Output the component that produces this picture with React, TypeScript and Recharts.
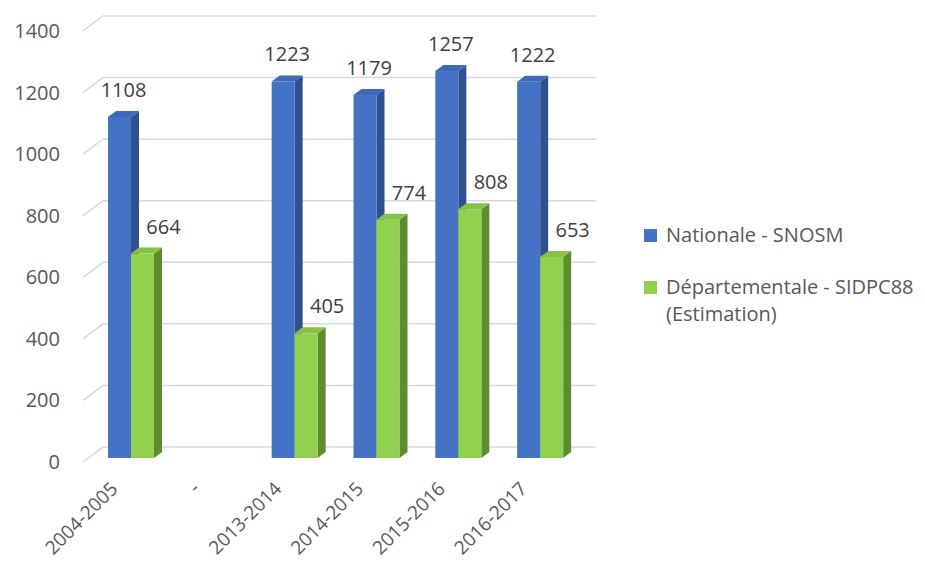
import { BarChart, Bar, XAxis, YAxis, CartesianGrid, LabelList } from 'recharts';

const CATEGORIES = ['2004-2005', '-', '2013-2014', '2014-2015', '2015-2016', '2016-2017'];
const NATIONALE = [1108, null, 1223, 1179, 1257, 1222];
const DEPARTEMENTALE = [664, null, 405, 774, 808, 653];
const Y_TICKS = [0, 200, 400, 600, 800, 1000, 1200, 1400];

const FONT = '"Open Sans", "Liberation Sans", sans-serif';
const FONT_SIZE = 20;
const DEPTH_X = 8;
const DEPTH_Y = -6;

const data = CATEGORIES.map((c, i) => ({
  name: c,
  nat: NATIONALE[i],
  dep: DEPARTEMENTALE[i],
}));

const makeBar3D = (front: string, side: string, top: string) => (props: any) => {
  const { x, y, width, height, value } = props;
  if (value == null || !height) return null;
  const v = Array.isArray(value) ? value[1] : value;
  if (v == null) return null;
  const r = x + width;
  const b = y + height;
  return (
    <g>
      <polygon points={`${r},${y} ${r + DEPTH_X},${y + DEPTH_Y} ${r + DEPTH_X},${b + DEPTH_Y} ${r},${b}`} fill={side} />
      <polygon points={`${x},${y} ${r},${y} ${r + DEPTH_X},${y + DEPTH_Y} ${x + DEPTH_X},${y + DEPTH_Y}`} fill={top} />
      <rect x={x} y={y} width={width} height={height} fill={front} />
    </g>
  );
};

const BlueBar = makeBar3D('#4472C4', '#2F528F', '#3E69B8');
const GreenBar = makeBar3D('#92D050', '#5E8C2F', '#86C246');

// grille "3D" : petit biseau à gauche puis ligne sur le mur du fond
const gridLine = (props: any) => {
  const { y1, x2, key } = props;
  const y = y1;
  return (
    <path
      key={key}
      d={`M 83 ${y + 4} L 103 ${y - 11} L ${x2 + 15} ${y - 11}`}
      fill="none"
      stroke="#D9D9D9"
      strokeWidth={1.5}
    />
  );
};

const YTick = (props: any) => {
  const { y, payload } = props;
  return (
    <text x={60} y={y + 11} textAnchor="end" fill="#595959" fontSize={FONT_SIZE} fontFamily={FONT}>
      {payload.value}
    </text>
  );
};

const XTick = (props: any) => {
  const { x, payload } = props;
  const ax = x - 12;
  const ay = 490;
  return (
    <text
      x={ax}
      y={ay}
      textAnchor="end"
      fill="#595959"
      fontSize={19}
      fontFamily={FONT}
      transform={`rotate(-45, ${ax}, ${ay})`}
    >
      {payload.value}
    </text>
  );
};

const valueLabel = (dx: number, dy: number) => (props: any) => {
  const { x, y, width, value } = props;
  if (value == null) return null;
  return (
    <text
      x={x + width / 2 + dx}
      y={y + dy}
      textAnchor="middle"
      fill="#404040"
      fontSize={FONT_SIZE}
      fontFamily={FONT}
    >
      {value}
    </text>
  );
};

export default function App() {
  return (
    <div style={{ position: 'absolute', left: 0, top: 0, width: 925, height: 563, background: '#fff' }}>
      <BarChart
        width={925}
        height={563}
        data={data}
        margin={{ top: 27, right: 344, bottom: 45, left: 10 }}
        barGap={0}
        barSize={23}
      >
        <CartesianGrid vertical={false} horizontal={gridLine} />
        <XAxis
          dataKey="name"
          axisLine={false}
          tickLine={false}
          interval={0}
          height={60}
          tick={<XTick />}
        />
        <YAxis
          domain={[0, 1400]}
          ticks={Y_TICKS}
          width={80}
          axisLine={false}
          tickLine={false}
          tick={<YTick />}
        />
        <Bar dataKey="nat" fill="#4472C4" shape={BlueBar} isAnimationActive={false}>
          <LabelList dataKey="nat" content={valueLabel(4, -20)} />
        </Bar>
        <Bar dataKey="dep" fill="#92D050" shape={GreenBar} isAnimationActive={false}>
          <LabelList dataKey="dep" content={valueLabel(21, -20)} />
        </Bar>
      </BarChart>
      <div
        style={{
          position: 'absolute',
          left: 644,
          top: 221,
          fontFamily: FONT,
          fontSize: FONT_SIZE,
          color: '#595959',
          lineHeight: '27px',
        }}
      >
        <div style={{ display: 'flex', alignItems: 'flex-start' }}>
          <span style={{ display: 'inline-block', width: 13, height: 13, background: '#4472C4', marginTop: 8, marginRight: 9 }} />
          <span>Nationale - SNOSM</span>
        </div>
        <div style={{ display: 'flex', alignItems: 'flex-start', marginTop: 25 }}>
          <span style={{ display: 'inline-block', width: 13, height: 13, background: '#92D050', marginTop: 8, marginRight: 9 }} />
          <span>
            Départementale - SIDPC88
            <br />
            (Estimation)
          </span>
        </div>
      </div>
    </div>
  );
}
